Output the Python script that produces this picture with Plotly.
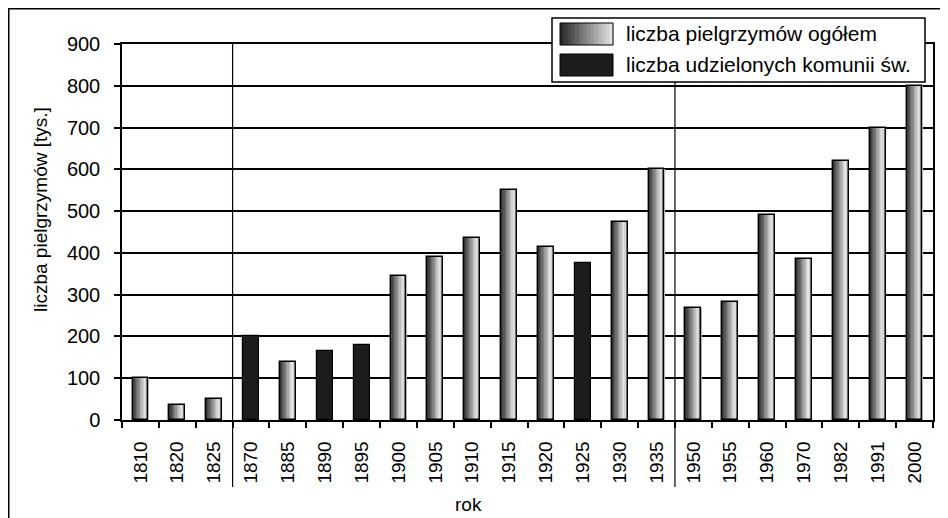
import plotly.graph_objects as go

# ---- data ----
years = ["1810", "1820", "1825", "1870", "1885", "1890", "1895", "1900", "1905",
         "1910", "1915", "1920", "1925", "1930", "1935", "1950", "1955", "1960",
         "1970", "1982", "1991", "2000"]
pielgrzymi = [100, 35, 50, None, 140, None, None, 345, 390,
              435, 550, 415, None, 475, 600, 268, 282, 490,
              385, 620, 700, 800]
komunie = [None, None, None, 200, None, 165, 180, None, None,
           None, None, None, 375, None, None, None, None, None,
           None, None, None, None]
y_ticks = [0, 100, 200, 300, 400, 500, 600, 700, 800, 900]
separators_after = ["1825", "1935"]
legend_labels = ["liczba pielgrzymów ogółem", "liczba udzielonych komunii św."]
x_title = "rok"
y_title = "liczba pielgrzymów [tys.]"

# ---- layout geometry (page body has an 8px margin) ----
OFF = 8
W, H = 948 - OFF, 518 - OFF
L = 122 - OFF
T = 44 - OFF
R = W - (933 - OFF)
B = H - (420 - OFF)
PW, PH = W - L - R, H - T - B
FONT = "Liberation Sans, Arial, sans-serif"


def px(x):
    """reference-picture x pixel -> paper coordinate"""
    return (x - OFF - L) / PW


def py(y):
    """reference-picture y pixel -> paper coordinate"""
    return (H - B - (y - OFF)) / PH


def grey(v):
    v = int(max(0, min(255, v)))
    return f"rgb({v},{v},{v})"


def grad(t):
    # dark on left, light toward right, slightly darker at the very edge
    if t < 0.82:
        return 38 + (235 - 38) * (t / 0.82)
    return 235 - (235 - 160) * ((t - 0.82) / 0.18)


BW = 0.43
N = 12
fig = go.Figure()
for i in range(N):
    t = (i + 0.5) / N
    fig.add_trace(go.Bar(
        x=years, y=pielgrzymi, width=BW / N * 1.15, offset=-BW / 2 + i * BW / N,
        marker=dict(color=grey(grad(t)), line=dict(width=0)),
        showlegend=False, hoverinfo="skip"))
# dark series
fig.add_trace(go.Bar(
    x=years, y=komunie, width=BW, offset=-BW / 2,
    marker=dict(color="#1c1c1c", line=dict(width=1.2, color="#000")),
    showlegend=False, name=legend_labels[1]))
# outline of gradient series
fig.add_trace(go.Bar(
    x=years, y=pielgrzymi, width=BW, offset=-BW / 2,
    marker=dict(color="rgba(0,0,0,0)", line=dict(width=1.4, color="#000")),
    showlegend=False, name=legend_labels[0]))

shapes = []
# separators between epochs
for s in separators_after:
    xi = years.index(s) + 0.5
    shapes.append(dict(type="line", xref="x", yref="paper", x0=xi, x1=xi,
                       y0=1, y1=py(487), line=dict(color="#000", width=1.2),
                       layer="above"))
# outer frame (top and left edges only, as in the cropped original)
shapes.append(dict(type="line", xref="paper", yref="paper",
                   x0=px(8), x1=px(948), y0=py(8.5), y1=py(8.5),
                   line=dict(color="#000", width=2)))
shapes.append(dict(type="line", xref="paper", yref="paper",
                   x0=px(8.5), x1=px(8.5), y0=py(8), y1=py(518),
                   line=dict(color="#000", width=2)))
# legend box
shapes.append(dict(type="rect", xref="paper", yref="paper",
                   x0=px(552), x1=px(925), y0=py(18), y1=py(82),
                   fillcolor="white", line=dict(color="#000", width=1.5),
                   layer="above"))
# legend swatches
sx0, sx1 = 560, 613
M = 14
for j in range(M):
    t = (j + 0.5) / M
    xa = sx0 + (sx1 - sx0) * j / M
    xb = sx0 + (sx1 - sx0) * (j + 1) / M + 0.6
    shapes.append(dict(type="rect", xref="paper", yref="paper",
                       x0=px(xa), x1=px(xb), y0=py(23), y1=py(45),
                       fillcolor=grey(38 + (230 - 38) * t), line=dict(width=0),
                       layer="above"))
shapes.append(dict(type="rect", xref="paper", yref="paper",
                   x0=px(sx0), x1=px(sx1), y0=py(23), y1=py(45),
                   fillcolor="rgba(0,0,0,0)", line=dict(color="#000", width=1),
                   layer="above"))
shapes.append(dict(type="rect", xref="paper", yref="paper",
                   x0=px(sx0), x1=px(sx1), y0=py(54), y1=py(76),
                   fillcolor="#1c1c1c", line=dict(color="#000", width=1),
                   layer="above"))

annotations = [
    dict(text=legend_labels[0], xref="paper", yref="paper", x=px(624), y=py(34),
         xanchor="left", yanchor="middle", showarrow=False,
         font=dict(family=FONT, size=21, color="#000")),
    dict(text=legend_labels[1], xref="paper", yref="paper", x=px(624), y=py(65),
         xanchor="left", yanchor="middle", showarrow=False,
         font=dict(family=FONT, size=21, color="#000")),
    dict(text=y_title, xref="paper", yref="paper", x=px(40), y=py(210),
         xanchor="center", yanchor="middle", textangle=-90, showarrow=False,
         font=dict(family=FONT, size=19, color="#000")),
    dict(text=x_title, xref="paper", yref="paper", x=px(468), y=py(504),
         xanchor="center", yanchor="middle", showarrow=False,
         font=dict(family=FONT, size=19, color="#000")),
]

fig.update_layout(
    width=W, height=H,
    margin=dict(l=L, r=R, t=T, b=B),
    paper_bgcolor="white", plot_bgcolor="white",
    barmode="overlay", bargap=0,
    showlegend=False,
    shapes=shapes, annotations=annotations,
    font=dict(family=FONT, color="#000"),
    xaxis=dict(
        type="category", categoryorder="array", categoryarray=years,
        showline=True, linecolor="#000", linewidth=1.5, mirror=True,
        ticks="outside", tickson="boundaries", ticklen=6, tickwidth=1.5,
        tickcolor="#000", tickangle=-90, ticklabelstandoff=12,
        tickfont=dict(family=FONT, size=19, color="#000"),
        showgrid=False, range=[-0.5, len(years) - 0.5], fixedrange=True,
    ),
    yaxis=dict(
        range=[0, 900], tickvals=y_ticks,
        showline=True, linecolor="#000", linewidth=1.5, mirror=True,
        ticks="outside", ticklen=6, tickwidth=1.5, tickcolor="#000",
        ticklabelstandoff=10,
        tickfont=dict(family=FONT, size=20, color="#000"),
        showgrid=True, gridcolor="#000", gridwidth=1.6, zeroline=False,
        fixedrange=True,
    ),
)

fig.write_html("out.html", config={"displayModeBar": False})
